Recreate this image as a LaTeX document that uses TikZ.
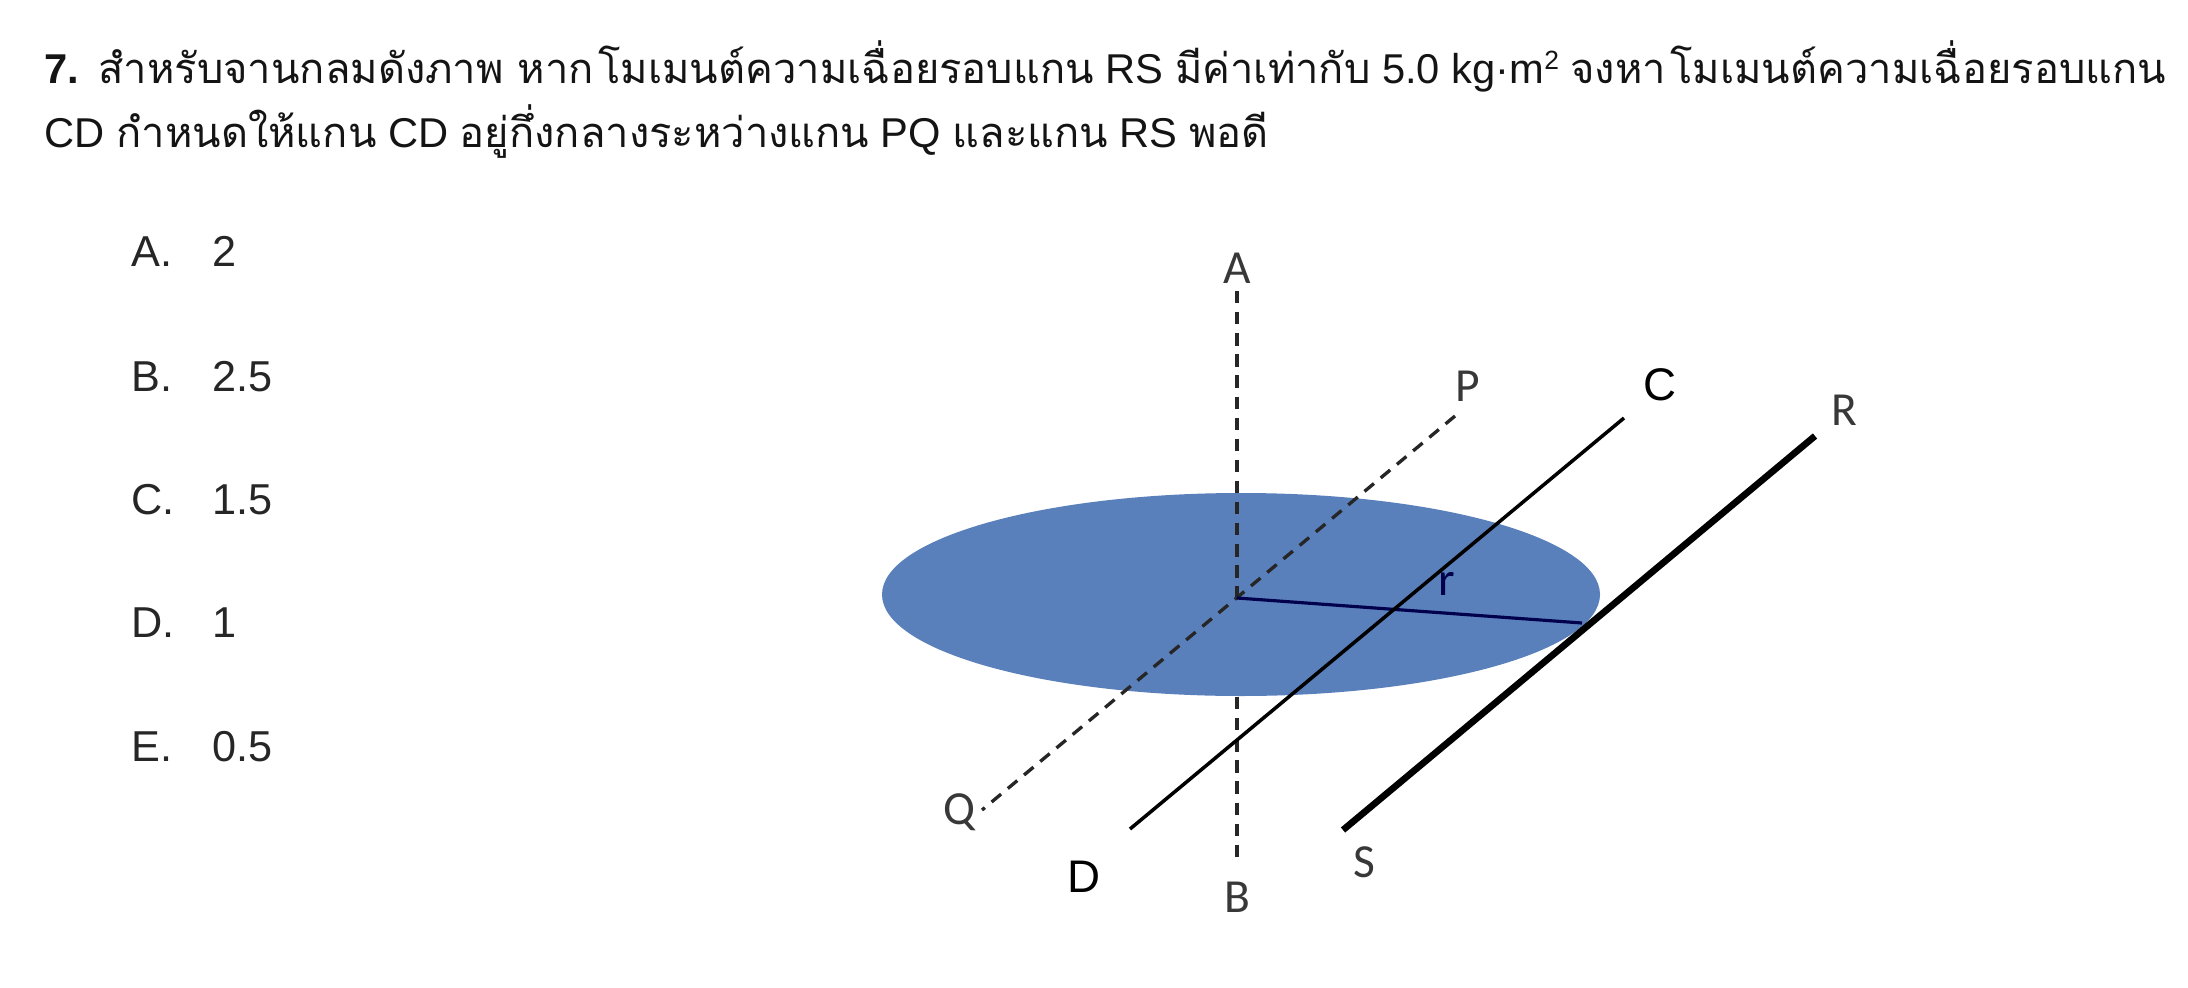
\documentclass[tikz,border=0pt]{standalone}
\usepackage{fontspec}
\setmainfont{Liberation Sans}
\newfontfamily\thaifont[Script=Thai]{Loma}
\newfontfamily\figfont{Carlito}
\usetikzlibrary{shapes.geometric}
\newcommand{\thtxt}[1]{{\thaifont #1}}
\begin{document}
\begin{tikzpicture}[x=0.01cm, y=-0.01cm]
        \tikzset{
        line txt/.style={anchor=base west,inner sep=0,font=\fontsize{11.85}{13}\selectfont,text=black!92},
        opt txt/.style={anchor=base west,inner sep=0,font=\fontsize{12.3}{14}\selectfont,text=black!85},
        fig lbl/.style={inner sep=0,font=\figfont\fontsize{13.5}{15}\selectfont,text=black!78},
        cd lbl/.style={inner sep=0,font=\fontsize{13}{15}\selectfont},
        disc/.style={ellipse,fill=discblue,inner sep=0,minimum width=718*0.01cm,minimum height=203*0.01cm},
        dash axis/.style={dash pattern=on 3.5pt off 2.5pt,line width=0.95pt,black!85}
        }
        \definecolor{discblue}{HTML}{5A80BB}
        \useasboundingbox (0,0) rectangle (2188,988);

        \node[line txt] (line1) at (44,84) {\textbf{7.}\kern1pt{} \thtxt{สำหรับจานกลมดังภาพ หาก\kern1.2pt{}โมเมนต์ความเฉื่อยรอบแกน} RS \thtxt{มีค่าเท่ากับ} 5.0 kg·m\raisebox{0.65ex}{\fontsize{7.5}{8}\selectfont 2} \thtxt{จงหา\kern1.2pt{}โมเมนต์ความเฉื่อยรอบแกน}};
        \node[line txt] (line2) at (44,148) {CD \thtxt{กำหนดให้แกน} CD \thtxt{อยู่กึ่งกลางระหว่างแกน} PQ \thtxt{และแกน} RS \thtxt{พอดี}};

        \node[opt txt] (optA) at (131,267) {A.};
        \node[opt txt] (optB) at (131,391) {B.};
        \node[opt txt] (optC) at (131,514) {C.};
        \node[opt txt] (optD) at (131,637) {D.};
        \node[opt txt] (optE) at (131,761) {E.};
        \node[opt txt] (valA) at (212,267) {2};
        \node[opt txt] (valB) at (212,391) {2.5};
        \node[opt txt] (valC) at (212,514) {1.5};
        \node[opt txt] (valD) at (212,637) {1};
        \node[opt txt] (valE) at (212,761) {0.5};

        \node[disc] (disc) at (1241,594.5) {};

        \node[fig lbl] (A) at (1237,268) {A};
        \node[fig lbl] (B) at (1237,897) {B};
        \node[fig lbl] (P) at (1468,386) {P};
        \node[fig lbl] (Q) at (959,812) {Q};
        \node[fig lbl] (R) at (1844,410) {R};
        \node[fig lbl] (S) at (1364,862) {S};
        \node[fig lbl,text=black!70!blue] (r) at (1447,584) {r};
        \node[cd lbl] (C) at (1660,385) {C};
        \node[cd lbl] (D) at (1084,877) {D};

        \coordinate (O) at (1237,598);
        \coordinate (Atop) at (1237,291);
        \coordinate (Bbot) at (1237,863);
        \coordinate (Bdisc) at (1237,697);
        \coordinate (Pend) at (1455,416);
        \coordinate (Qend) at (982,810);
        \coordinate (Cend) at (1624,418);
        \coordinate (Dend) at (1130,829);
        \coordinate (Rend) at (1815,436);
        \coordinate (Send) at (1343,830);
        \coordinate (rim) at (1582,623);

        \path[draw]
        (Atop) edge[dash axis] (O)
        (Bdisc) edge[dash axis] (Bbot)
        (Pend) edge[dash axis] (Qend)
        ;
        \draw[line width=0.9pt,black!70!blue] (O) -- (rim);
        \draw[line width=1pt] (Cend) -- (Dend);
        \draw[line width=1.9pt] (Rend) -- (Send);
    \end{tikzpicture}
\end{document}
